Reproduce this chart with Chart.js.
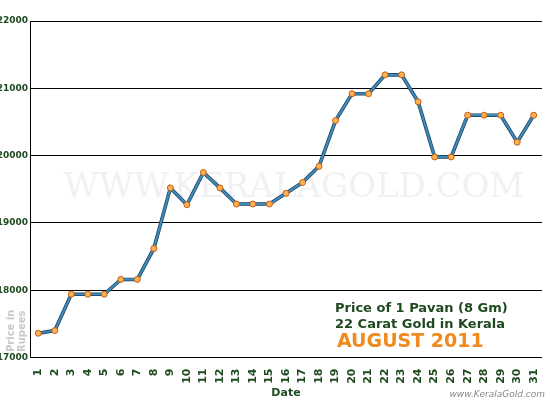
<!DOCTYPE html>
<html><head><meta charset="utf-8">
<script src="https://cdn.jsdelivr.net/npm/chart.js@4"></script>
<style>html,body{margin:0;padding:0;background:#fff}#w{width:550px;height:400px}</style>
</head><body><div id="w"><canvas id="c"></canvas></div>
<script>
const dates = Array.from({length:31},(_, i)=>String(i+1));
const prices = [17360,17400,17940,17940,17940,18160,18160,18620,19520,19270,19750,19520,19280,19280,19280,19440,19600,19840,20520,20920,20920,21200,21200,20800,19980,19980,20600,20600,20600,20200,20600];
const yTicks = [17000,18000,19000,20000,21000,22000];

const deco = {
  id:'deco',
  beforeDatasetsDraw(ch){
    const c=ch.ctx, a=ch.chartArea;
    c.save();
    c.fillStyle='rgba(215,215,215,0.35)';
    c.font='34px "DejaVu Serif", serif';
    c.textAlign='center';c.textBaseline='middle';
    c.fillText('WWW.KERALAGOLD.COM',(a.left+a.right)/2+8,188);
    c.restore();
  },
  afterDraw(ch){
    const c=ch.ctx;
    c.save();
    c.textAlign='left';c.textBaseline='alphabetic';
    c.fillStyle='#1f4a1f';
    c.font='bold 13px "DejaVu Sans", sans-serif';
    c.fillText('Price of 1 Pavan (8 Gm)',335,312);
    c.fillText('22 Carat Gold in Kerala',335,328);
    c.fillStyle='#f08a1e';
    c.font='bold 19px "DejaVu Sans", sans-serif';
    c.fillText('AUGUST 2011',337,347);
    c.fillStyle='#888';
    c.font='italic 9px "DejaVu Sans", sans-serif';
    c.textAlign='right';
    c.fillText('www.KeralaGold.com',545,397);
    c.fillStyle='#c8c8c8';
    c.font='bold 10px "DejaVu Sans", sans-serif';
    c.translate(14,352);c.rotate(-Math.PI/2);c.textAlign='left';
    c.fillText('Price in',0,0);
    c.fillText('Rupees',0,11);
    c.restore();
  }
};

new Chart(document.getElementById('c'),{
  type:'line',
  data:{labels:dates,datasets:[
    {data:prices,borderColor:'#3d8ab8',borderWidth:2.2,pointRadius:3,pointBackgroundColor:'#ffb050',pointBorderColor:'#c0601a',pointBorderWidth:1,tension:0,order:1},
    {data:prices,borderColor:'#1c3e5c',borderWidth:3.6,pointRadius:0,tension:0,order:2}
  ]},
  options:{
    responsive:true,maintainAspectRatio:false,animation:false,
    layout:{padding:{top:21,right:0,left:0,bottom:0}},
    plugins:{legend:{display:false},tooltip:{enabled:false}},
    scales:{
      x:{offset:true,grid:{display:false},border:{color:'#000'},
        ticks:{color:'#1f4a1f',font:{size:11,weight:'bold',family:'DejaVu Sans'},maxRotation:90,minRotation:90,autoSkip:false},
        title:{display:true,text:'Date',color:'#1f4a1f',font:{size:11,weight:'bold',family:'DejaVu Sans'},padding:0}},
      y:{min:17000,max:22000,afterFit(s){s.width=30;},
        afterBuildTicks(s){s.ticks=yTicks.map(v=>({value:v}));},
        grid:{color:'#000',drawTicks:false},border:{color:'#000'},
        ticks:{color:'#1f4a1f',font:{size:9,weight:'bold',family:'DejaVu Sans'},padding:2,callback:v=>String(v)}}
    }
  },
  plugins:[deco]
});
</script></body></html>
